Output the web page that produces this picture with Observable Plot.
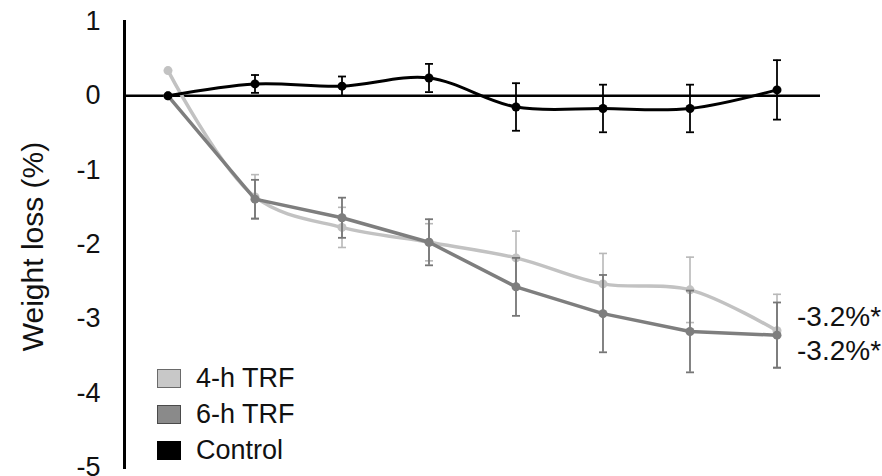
<!DOCTYPE html>
<html><head><meta charset="utf-8">
<script src="https://cdn.jsdelivr.net/npm/d3@7"></script>
<script src="https://cdn.jsdelivr.net/npm/@observablehq/plot@0.6"></script>
<style>
body{margin:0;background:#fff;}
#wrap{position:relative;width:882px;height:476px;font-family:"Liberation Sans",Arial,sans-serif;}
.legend{position:absolute;left:157px;top:360px;}
.item{display:flex;align-items:center;height:36px;font-size:27px;color:#111;line-height:36px;}
.sw{width:22px;height:17px;margin-right:15px;border:1.5px solid #555;box-sizing:content-box;}
</style></head><body><div id="wrap"></div>
<script>
// time points (no x labels shown in reference)
const timepoints = [0, 1, 2, 3, 4, 5, 6, 7];
const yTicks = [1, 0, -1, -2, -3, -4, -5];

const seriesNames = ["4-h TRF", "6-h TRF", "Control"];
const seriesColors = ["#c2c2c2", "#7e7e7e", "#000000"];
const errColors = ["#b8b8b8", "#767676", "#000000"];

const trf4 = [0.34, -1.36, -1.77, -1.97, -2.18, -2.53, -2.61, -3.16];
const trf4Err = [0, 0.30, 0.27, 0.25, 0.36, 0.41, 0.44, 0.49];
const trf6 = [0.0, -1.39, -1.64, -1.97, -2.57, -2.93, -3.17, -3.22];
const trf6Err = [0, 0.26, 0.27, 0.31, 0.39, 0.52, 0.55, 0.44];
const control = [0.0, 0.16, 0.13, 0.24, -0.15, -0.17, -0.17, 0.08];
const controlErr = [0, 0.12, 0.13, 0.19, 0.32, 0.32, 0.32, 0.40];

const endLabels = ["-3.2%*", "-3.2%*"];
const yTitle = "Weight loss (%)";

const rows = (vals, errs) => timepoints.map((t, i) => ({t, v: vals[i], e: errs[i]}));
const d4 = rows(trf4, trf4Err), d6 = rows(trf6, trf6Err), dc = rows(control, controlErr);

const cap = {draw(ctx, size) { const w = Math.sqrt(size / Math.PI); ctx.moveTo(-w, 0); ctx.lineTo(w, 0); }};

function seriesMarks(data, color, ecolor, curve, lw, ew) {
  const withErr = data.filter(d => d.e > 0);
  return [
    Plot.ruleX(withErr, {x: "t", y1: d => d.v - d.e, y2: d => d.v + d.e, stroke: ecolor, strokeWidth: ew}),
    Plot.dot(withErr, {x: "t", y: d => d.v + d.e, symbol: cap, r: 4, fill: "none", stroke: ecolor, strokeWidth: ew}),
    Plot.dot(withErr, {x: "t", y: d => d.v - d.e, symbol: cap, r: 4, fill: "none", stroke: ecolor, strokeWidth: ew}),
    Plot.line(data, {x: "t", y: "v", stroke: color, strokeWidth: lw, curve}),
    Plot.dot(data, {x: "t", y: "v", r: 4.5, fill: color})
  ];
}

const last4 = [d4[d4.length - 1]].map(d => ({...d, label: endLabels[0]}));
const last6 = [d6[d6.length - 1]].map(d => ({...d, label: endLabels[1]}));

const chart = Plot.plot({
  width: 882, height: 476,
  marginLeft: 124, marginRight: 62, marginTop: 21, marginBottom: 9,
  style: {fontFamily: '"Liberation Sans", Arial, sans-serif', background: "white", color: "#111", overflow: "visible"},
  x: {domain: [-0.5, 7.5], axis: null},
  y: {domain: [-5, 1]},
  marks: [
    Plot.axisY({ticks: yTicks, tickSize: 0, tickPadding: 24, tickFormat: d => String(d), fontSize: 27, label: null}),
    Plot.text([yTitle], {frameAnchor: "left", rotate: -90, dx: -91, dy: 2, textAnchor: "middle", lineAnchor: "middle", fontSize: 30, text: d => d}),
    Plot.ruleY([0], {stroke: "#000", strokeWidth: 2.5}),
    Plot.frame({anchor: "left", stroke: "#000", strokeWidth: 3}),
    ...seriesMarks(d4, seriesColors[0], errColors[0], "catmull-rom", 3.5, 1.6),
    ...seriesMarks(d6, seriesColors[1], errColors[1], "linear", 3.5, 1.8),
    ...seriesMarks(dc, seriesColors[2], errColors[2], "catmull-rom", 3, 1.8),
    Plot.text(last4, {x: "t", y: "v", text: "label", dx: 20, dy: -14, textAnchor: "start", fontSize: 28}),
    Plot.text(last6, {x: "t", y: "v", text: "label", dx: 20, dy: 16, textAnchor: "start", fontSize: 28})
  ]
});

const wrap = document.getElementById("wrap");
wrap.appendChild(chart);
const legend = document.createElement("div");
legend.className = "legend";
const swatchFill = ["#c8c8c8", "#8a8a8a", "#000"];
const swatchBorder = ["#6a6a6a", "#4a4a4a", "#000"];
seriesNames.forEach((name, i) => {
  const item = document.createElement("div");
  item.className = "item";
  const sw = document.createElement("span");
  sw.className = "sw";
  sw.style.background = swatchFill[i];
  sw.style.borderColor = swatchBorder[i];
  item.appendChild(sw);
  const tx = document.createElement("span");
  tx.textContent = name;
  item.appendChild(tx);
  legend.appendChild(item);
});
wrap.appendChild(legend);
</script>
</body></html>
